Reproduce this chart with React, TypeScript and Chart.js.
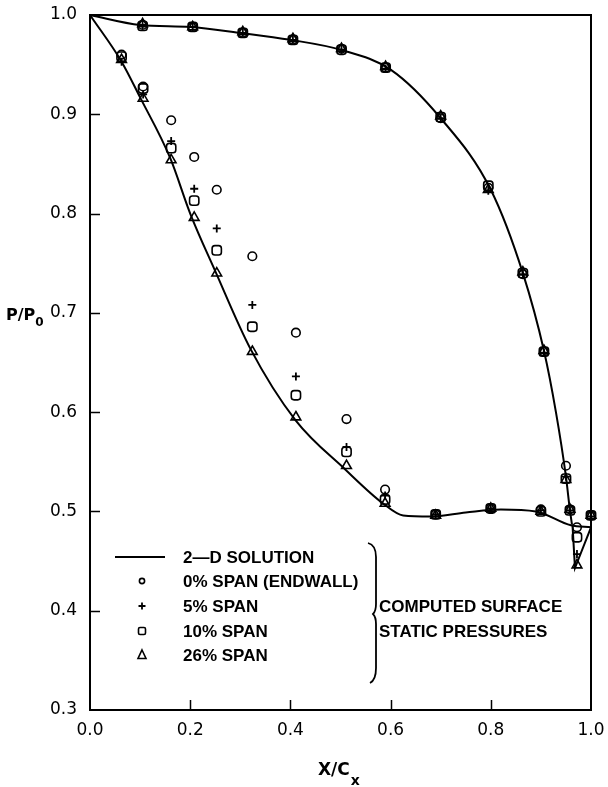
import React, { useEffect, useRef } from 'react';
import { Chart, registerables } from 'chart.js';

Chart.register(...registerables);

// ---------- axis ticks ----------
const X_TICKS = [0.0, 0.2, 0.4, 0.6, 0.8, 1.0];
const Y_TICKS = [0.3, 0.4, 0.5, 0.6, 0.7, 0.8, 0.9, 1.0];

// ---------- 2-D solution (traced curve) ----------
const UPPER_X = [0.0, 0.1, 0.2, 0.3, 0.4, 0.5, 0.6, 0.7, 0.8, 0.864, 0.906, 0.93, 0.95, 0.958, 0.962];
const UPPER_Y = [1.0, 0.990, 0.988, 0.982, 0.975, 0.965, 0.945, 0.896, 0.824, 0.740, 0.662, 0.600, 0.535, 0.501, 0.487];

const LOWER_X = [0.0, 0.063, 0.1, 0.16, 0.2, 0.25, 0.32, 0.41, 0.51, 0.585, 0.625, 0.68, 0.75, 0.82, 0.89, 0.96, 1.0];
const LOWER_Y = [1.0, 0.953, 0.917, 0.856, 0.800, 0.742, 0.664, 0.592, 0.542, 0.508, 0.496, 0.495, 0.499, 0.502, 0.500, 0.486, 0.484];

const TE_X = [1.0, 0.968, 0.963];
const TE_Y = [0.484, 0.443, 0.487];

// ---------- measured stations ----------
const SUCTION_X = [0.063, 0.106, 0.162, 0.208, 0.253, 0.324, 0.411, 0.512, 0.589, 0.69, 0.80, 0.90, 0.972];
const PRESSURE_X = [0.105, 0.205, 0.305, 0.405, 0.502, 0.59, 0.70, 0.795, 0.864, 0.906, 0.95, 0.958, 1.0];

const SPAN0_SUCTION = [0.960, 0.928, 0.894, 0.857, 0.824, 0.757, 0.680, 0.593, 0.522, 0.497, 0.503, 0.502, 0.484];
const SPAN5_SUCTION = [0.953, 0.920, 0.873, 0.825, 0.785, 0.708, 0.636, 0.565, 0.516, 0.497, 0.503, 0.501, 0.457];
const SPAN10_SUCTION = [0.958, 0.926, 0.866, 0.813, 0.763, 0.686, 0.617, 0.560, 0.512, 0.497, 0.503, 0.500, 0.474];
const SPAN26_SUCTION = [0.955, 0.916, 0.854, 0.796, 0.740, 0.661, 0.595, 0.546, 0.508, 0.496, 0.503, 0.500, 0.446];

const SPAN0_PRESSURE = [0.990, 0.988, 0.982, 0.975, 0.966, 0.947, 0.896, 0.826, 0.739, 0.661, 0.546, 0.502, 0.496];
const SPAN5_PRESSURE = [0.990, 0.988, 0.982, 0.975, 0.965, 0.946, 0.896, 0.823, 0.739, 0.660, 0.535, 0.501, 0.495];
const SPAN10_PRESSURE = [0.989, 0.988, 0.982, 0.975, 0.965, 0.947, 0.897, 0.828, 0.740, 0.661, 0.533, 0.501, 0.496];
const SPAN26_PRESSURE = [0.991, 0.988, 0.983, 0.976, 0.966, 0.948, 0.898, 0.824, 0.741, 0.662, 0.532, 0.502, 0.496];

// ---------- text ----------
const LEGEND_LABELS = ['2\u2014D SOLUTION', '0% SPAN (ENDWALL)', '5% SPAN', '10% SPAN', '26% SPAN'];
const NOTE_LINES = ['COMPUTED SURFACE', 'STATIC PRESSURES'];
const X_TITLE = ['X/C', 'x'];
const Y_TITLE = ['P/P', '0'];

const pts = (xs: number[], ys: number[]) => xs.map((x, i) => ({ x, y: ys[i] }));

const markerSet = (label: string, suction: number[], pressure: number[], style: string, radius: number, bw: number) => ({
  label,
  type: 'scatter' as const,
  data: [...pts(SUCTION_X, suction), ...pts(PRESSURE_X, pressure)],
  pointStyle: style,
  pointRadius: radius,
  pointBorderWidth: bw,
  pointBorderColor: '#000',
  pointBackgroundColor: 'rgba(0,0,0,0)',
  showLine: false,
  clip: false,
});

const curve = (label: string, xs: number[], ys: number[], monotone: boolean) => ({
  label,
  type: 'scatter' as const,
  data: pts(xs, ys),
  showLine: true,
  borderColor: '#000',
  borderWidth: 2,
  pointRadius: 0,
  tension: monotone ? 0.4 : 0,
  cubicInterpolationMode: monotone ? 'monotone' : 'default',
  clip: false,
});

const decor = {
  id: 'decor',
  beforeDraw(chart: any) {
    const ctx = chart.ctx;
    ctx.save();
    ctx.fillStyle = '#fff';
    ctx.fillRect(0, 0, chart.width, chart.height);
    ctx.restore();
  },
  afterDraw(chart: any) {
    const ctx = chart.ctx as CanvasRenderingContext2D;
    const a = chart.chartArea;
    const xs = chart.scales.x;
    const ys = chart.scales.y;
    ctx.save();
    ctx.strokeStyle = '#000';
    ctx.fillStyle = '#000';
    ctx.lineWidth = 2;
    ctx.strokeRect(a.left, a.top, a.right - a.left, a.bottom - a.top);

    ctx.lineWidth = 1.5;
    ctx.beginPath();
    X_TICKS.forEach((v) => {
      const px = Math.round(xs.getPixelForValue(v)) + 0.5;
      if (px > a.left + 2 && px < a.right - 2) {
        ctx.moveTo(px, a.bottom);
        ctx.lineTo(px, a.bottom - 10);
      }
    });
    Y_TICKS.forEach((v) => {
      const py = Math.round(ys.getPixelForValue(v)) + 0.5;
      if (py > a.top + 2 && py < a.bottom - 2) {
        ctx.moveTo(a.left, py);
        ctx.lineTo(a.left + 10, py);
      }
    });
    ctx.stroke();

    // legend
    const rows = [557, 581, 606, 631, 655];
    const symX = 142;
    ctx.lineWidth = 2;
    ctx.beginPath();
    ctx.moveTo(115, rows[0]);
    ctx.lineTo(165, rows[0]);
    ctx.stroke();
    ctx.lineWidth = 1.6;
    ctx.beginPath();
    ctx.arc(symX, rows[1], 2.6, 0, Math.PI * 2);
    ctx.stroke();
    ctx.lineWidth = 1.8;
    ctx.beginPath();
    ctx.moveTo(symX - 3.5, rows[2]);
    ctx.lineTo(symX + 3.5, rows[2]);
    ctx.moveTo(symX, rows[2] - 3.5);
    ctx.lineTo(symX, rows[2] + 3.5);
    ctx.stroke();
    ctx.lineWidth = 1.6;
    ctx.beginPath();
    (ctx as any).roundRect ? (ctx as any).roundRect(symX - 3.5, rows[3] - 3.5, 7, 7, 1.5) : ctx.rect(symX - 3.5, rows[3] - 3.5, 7, 7);
    ctx.stroke();
    ctx.beginPath();
    ctx.moveTo(symX, rows[4] - 5);
    ctx.lineTo(symX + 4, rows[4] + 3.5);
    ctx.lineTo(symX - 4, rows[4] + 3.5);
    ctx.closePath();
    ctx.stroke();

    ctx.font = 'bold 17px "Liberation Sans", Arial, sans-serif';
    ctx.textBaseline = 'middle';
    ctx.textAlign = 'left';
    LEGEND_LABELS.forEach((t, i) => ctx.fillText(t, 183, rows[i] + 1));

    // brace
    ctx.lineWidth = 1.8;
    ctx.beginPath();
    ctx.moveTo(368, 543);
    ctx.quadraticCurveTo(376, 545, 376, 557);
    ctx.lineTo(376, 604);
    ctx.quadraticCurveTo(376, 611, 373, 614);
    ctx.quadraticCurveTo(376, 617, 376, 624);
    ctx.lineTo(376, 668);
    ctx.quadraticCurveTo(376, 680, 370, 683);
    ctx.stroke();

    ctx.fillText(NOTE_LINES[0], 379, 607);
    ctx.fillText(NOTE_LINES[1], 379, 632);

    // axis titles
    ctx.textBaseline = 'alphabetic';
    ctx.font = 'bold 17px "DejaVu Sans", sans-serif';
    ctx.fillText(X_TITLE[0], 318, 775);
    const wX = ctx.measureText(X_TITLE[0]).width;
    ctx.font = 'bold 14px "DejaVu Sans", sans-serif';
    ctx.fillText(X_TITLE[1], 318 + wX + 1, 785);

    ctx.font = 'bold 16px "DejaVu Sans", sans-serif';
    ctx.fillText(Y_TITLE[0], 6, 320);
    const wY = ctx.measureText(Y_TITLE[0]).width;
    ctx.font = 'bold 12px "DejaVu Sans", sans-serif';
    ctx.fillText(Y_TITLE[1], 6 + wY, 326);
    ctx.restore();
  },
};

export default function App() {
  const ref = useRef<HTMLCanvasElement | null>(null);
  useEffect(() => {
    if (!ref.current) return;
    const chart = new Chart(ref.current, {
      type: 'scatter',
      data: {
        datasets: [
          markerSet('0% SPAN (ENDWALL)', SPAN0_SUCTION, SPAN0_PRESSURE, 'circle', 4.3, 1.6),
          markerSet('5% SPAN', SPAN5_SUCTION, SPAN5_PRESSURE, 'cross', 4, 1.8),
          markerSet('10% SPAN', SPAN10_SUCTION, SPAN10_PRESSURE, 'rectRounded', 5.4, 1.6),
          markerSet('26% SPAN', SPAN26_SUCTION, SPAN26_PRESSURE, 'triangle', 5.6, 1.6),
          curve('2-D SOLUTION upper', UPPER_X, UPPER_Y, true),
          curve('2-D SOLUTION lower', LOWER_X, LOWER_Y, true),
          curve('2-D SOLUTION trailing edge', TE_X, TE_Y, false),
        ] as any,
      },
      options: {
        animation: false,
        responsive: false,
        maintainAspectRatio: false,
        devicePixelRatio: 1,
        layout: { padding: { left: 0, top: 15, right: 17, bottom: 0 } },
        plugins: { legend: { display: false }, tooltip: { enabled: false } },
        scales: {
          x: {
            type: 'linear',
            min: 0,
            max: 1,
            afterFit: (s: any) => { s.height = 77; s.paddingLeft = 0; s.paddingRight = 0; },
            afterBuildTicks: (s: any) => { s.ticks = X_TICKS.map((v) => ({ value: v })); },
            ticks: {
              color: '#000',
              padding: 10,
              font: { family: '"DejaVu Sans", sans-serif', size: 17 },
              callback: (v: any) => Number(v).toFixed(1),
              maxRotation: 0,
            },
            grid: { display: false, drawTicks: false },
            border: { display: false },
          },
          y: {
            type: 'linear',
            min: 0.3,
            max: 1.0,
            afterFit: (s: any) => { s.width = 90; s.paddingTop = 0; s.paddingBottom = 0; },
            afterBuildTicks: (s: any) => { s.ticks = Y_TICKS.map((v) => ({ value: v })); },
            ticks: {
              color: '#000',
              padding: 13,
              font: { family: '"DejaVu Sans", sans-serif', size: 17 },
              callback: (v: any) => Number(v).toFixed(1),
            },
            grid: { display: false, drawTicks: false },
            border: { display: false },
          },
        },
      },
      plugins: [decor],
    } as any);
    return () => chart.destroy();
  }, []);
  return (
    <div style={{ position: 'absolute', left: 0, top: 0, width: 608, height: 787, background: '#fff' }}>
      <canvas ref={ref} width={608} height={787} style={{ display: 'block' }} />
    </div>
  );
}
